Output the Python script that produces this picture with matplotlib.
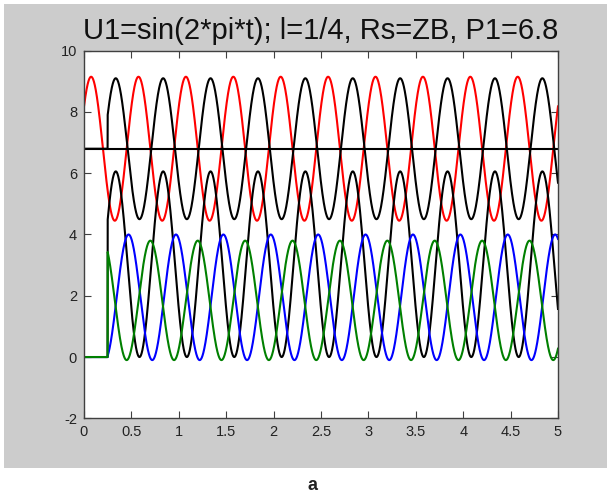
import numpy as np
import matplotlib
matplotlib.use('Agg')
import matplotlib.pyplot as plt
from matplotlib.patches import Rectangle

plt.rcParams['axes.unicode_minus'] = False

# values
title = 'U1=sin(2*pi*t); l=1/4, Rs=ZB, P1=6.8'
P1 = 6.8
period = 0.5          # every trace repeats every 0.5 s
t_switch = 0.25       # traces other than red start here

# name, colour, mean level, amplitude, time of a peak, level before switch-on
names = ['red', 'black_up', 'black_low', 'blue', 'green']
colors = ['#ff0000', '#000000', '#000000', '#0000ff', '#008000']
means = [6.8, 6.8, 3.03, 1.95, 1.85]
amps = [2.35, 2.3, 3.03, 2.05, 1.95]
peak_t = [0.075, 0.335, 0.335, 0.47, 0.70]
before = [None, 6.8, 0.0, 0.0, 0.0]

xticks = [0, 0.5, 1, 1.5, 2, 2.5, 3, 3.5, 4, 4.5, 5]
xlabels = ['0', '0.5', '1', '1.5', '2', '2.5', '3', '3.5', '4', '4.5', '5']
yticks = [-2, 0, 2, 4, 6, 8, 10]

t = np.linspace(0, 5, 4001)

fig = plt.figure(figsize=(6.11, 4.94), dpi=100)
fig.patch.set_facecolor('white')
# matlab grey figure area
fig.patches.append(Rectangle((4 / 611, 1 - 468 / 494), 603 / 611, 464 / 494,
                             transform=fig.transFigure, facecolor='#cccccc',
                             edgecolor='none', zorder=-1))

ax = fig.add_axes([84 / 611, 1 - 418.3 / 494, 474 / 611, 367.6 / 494])
ax.set_zorder(1)
ax.set_facecolor('white')

for n, c, m, a, p, b in zip(names, colors, means, amps, peak_t, before):
    y = m + a * np.cos(2 * np.pi / period * (t - p))
    if b is not None:
        y = np.where(t < t_switch, b, y)
    ax.plot(t, y, color=c, lw=1.5)

ax.axhline(P1, color='black', lw=1.5)

ax.set_xlim(0, 5)
ax.set_ylim(-2, 10)
ax.set_xticks(xticks)
ax.set_xticklabels(xlabels)
ax.set_yticks(yticks)
ax.tick_params(direction='in', top=True, right=True, length=5, width=0.8,
               colors='#404040', labelsize=10.5, pad=5)
for lbl in ax.get_xticklabels() + ax.get_yticklabels():
    lbl.set_color('#222222')
    lbl.set_fontfamily('Liberation Sans')
for s in ax.spines.values():
    s.set_color('#404040')
    s.set_linewidth(1.0)

fig.text(321 / 611, 1 - 39 / 494, title, ha='center', va='baseline',
         fontsize=21, family='Liberation Sans', color='#111111', zorder=2)
fig.text(313 / 611, 1 - 485 / 494, 'a', ha='center', va='center',
         fontsize=13, fontweight='bold', family='Liberation Sans', color='#222222')

fig.savefig('out.png', dpi=100)
